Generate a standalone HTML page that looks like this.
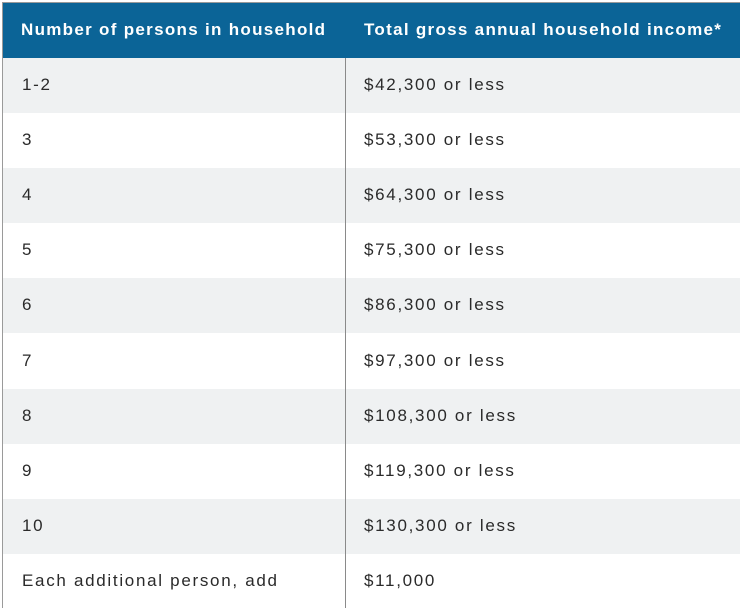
<!DOCTYPE html>
<html><head><style>
html,body{margin:0;padding:0;background:#fff;}
body{width:740px;height:608px;overflow:hidden;font-family:"Liberation Sans","DejaVu Sans",sans-serif;position:relative;}
.wrap{position:absolute;left:2px;top:2px;width:738px;height:606px;border-left:1px solid #9a9a9a;border-top:1px solid #9a9a9a;box-sizing:border-box;overflow:hidden;}
.hdr{position:absolute;left:0;top:0;width:740px;height:55px;background:#0b6497;color:#fff;font-weight:bold;font-size:17px;letter-spacing:1.3px;}
.hdr span{position:absolute;top:17px;}
.row{position:absolute;left:0;width:740px;height:55px;font-size:17px;letter-spacing:1.7px;color:#2a2a2a;}
.row span{position:absolute;top:17px;}
.g{background:#eff1f2;}
.div{position:absolute;left:342px;top:55px;width:1px;height:560px;background:#8a8a8a;}
</style></head><body>
<div class="wrap">
<div class="hdr"><span style="left:18px">Number of persons in household</span><span style="left:361px">Total gross annual household income*</span></div>
<div class="row g" style="top:55px"><span style="left:19px">1-2</span><span style="left:361px">$42,300 or less</span></div>
<div class="row" style="top:110px"><span style="left:19px">3</span><span style="left:361px">$53,300 or less</span></div>
<div class="row g" style="top:165px"><span style="left:19px">4</span><span style="left:361px">$64,300 or less</span></div>
<div class="row" style="top:220px"><span style="left:19px">5</span><span style="left:361px">$75,300 or less</span></div>
<div class="row g" style="top:275px"><span style="left:19px">6</span><span style="left:361px">$86,300 or less</span></div>
<div class="row" style="top:331px"><span style="left:19px">7</span><span style="left:361px">$97,300 or less</span></div>
<div class="row g" style="top:386px"><span style="left:19px">8</span><span style="left:361px">$108,300 or less</span></div>
<div class="row" style="top:441px"><span style="left:19px">9</span><span style="left:361px">$119,300 or less</span></div>
<div class="row g" style="top:496px"><span style="left:19px">10</span><span style="left:361px">$130,300 or less</span></div>
<div class="row" style="top:551px"><span style="left:19px">Each additional person, add</span><span style="left:361px">$11,000</span></div>
<div class="div"></div>
</div>
</body></html>
